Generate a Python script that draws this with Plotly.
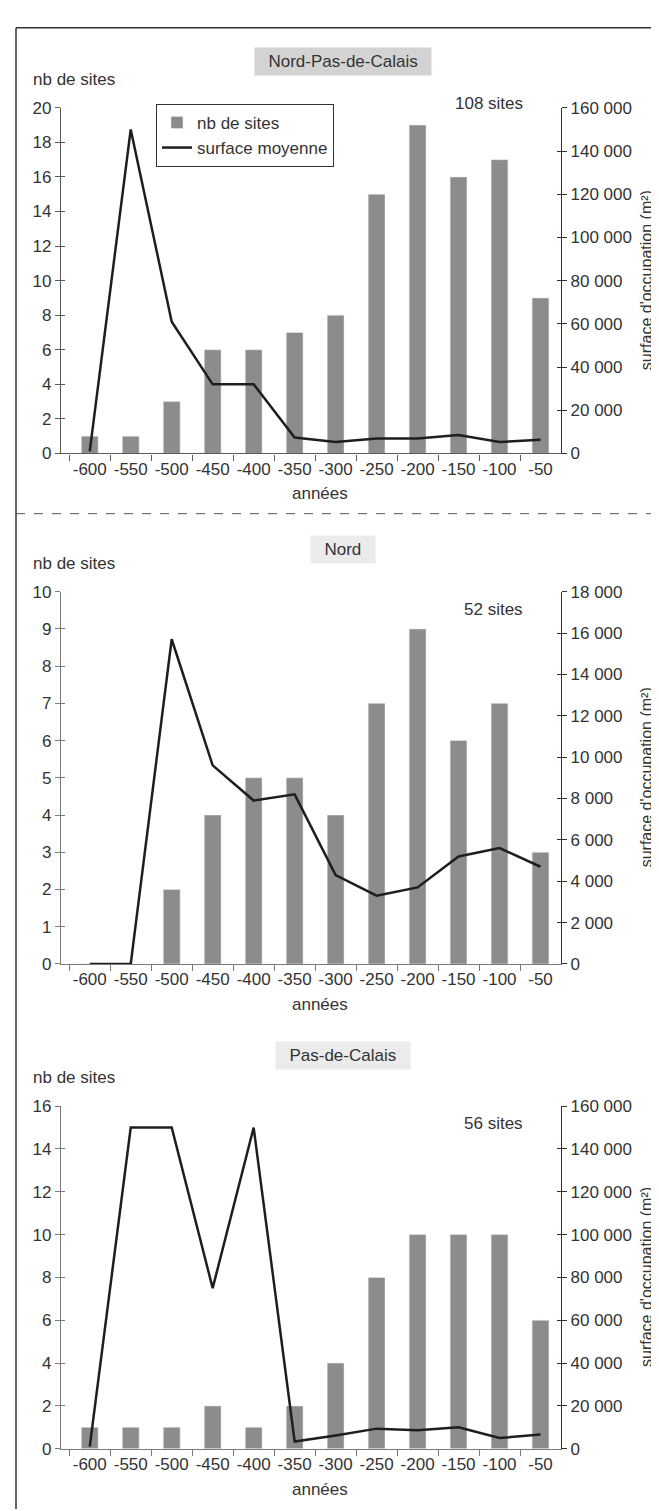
import plotly.graph_objects as go

# données
annees = ["-600", "-550", "-500", "-450", "-400", "-350", "-300", "-250", "-200", "-150", "-100", "-50"]

regions = ["Nord-Pas-de-Calais", "Nord", "Pas-de-Calais"]
totaux = ["108 sites", "52 sites", "56 sites"]

npdc_sites = [1, 1, 3, 6, 6, 7, 8, 15, 19, 16, 17, 9]
npdc_surface = [1000, 150000, 61000, 32000, 32000, 7400, 5300, 6900, 6900, 8500, 5300, 6300]

nord_sites = [0, 0, 2, 4, 5, 5, 4, 7, 9, 6, 7, 3]
nord_surface = [0, 0, 15700, 9600, 7900, 8200, 4300, 3300, 3700, 5200, 5600, 4700]

pdc_sites = [1, 1, 1, 2, 1, 2, 4, 8, 10, 10, 10, 6]
pdc_surface = [1000, 150000, 150000, 75000, 150000, 3400, 6200, 9400, 8600, 10000, 5000, 6700]

sites = [npdc_sites, nord_sites, pdc_sites]
surfaces = [npdc_surface, nord_surface, pdc_surface]

sites_max = [20, 10, 16]
sites_pas = [2, 1, 2]
surface_max = [160000, 18000, 160000]
surface_pas = [20000, 2000, 20000]

# mise en page (pixels)
W, H = 659, 1511
haut = [92, 582, 1103]
bas = [442, 959, 1450]
gauche, droite = 53, 553
fond_titre = ["#d3d3d3", "#ebebeb", "#ebebeb"]
ecart_titre = [47, 43, 51]

def fx(p):
    return p / W

def fy(p):
    return 1 - p / H

police = "Liberation Sans, Arial, sans-serif"
gris_txt = "#333333"

def texte(t, x, y, **kw):
    d = dict(text=t, x=fx(x), y=fy(y), xref="paper", yref="paper",
             showarrow=False, xanchor="center", yanchor="middle",
             font=dict(size=17, color=gris_txt))
    d.update(kw)
    return d

fig = go.Figure()
layout = {}
annotations = []

for i in range(3):
    xa = "x" if i == 0 else "x%d" % (i + 1)
    n = 4 * i + 1
    yl = "y" if n == 1 else "y%d" % n
    yr, yl2, yr2 = "y%d" % (n + 1), "y%d" % (n + 2), "y%d" % (n + 3)
    col_axe = "#5a5a5a" if i == 0 else "#7a7a7a"

    fig.add_trace(go.Bar(
        x=annees, y=sites[i], xaxis=xa, yaxis=yl,
        name="nb de sites", marker_color="#8c8c8c", width=0.41,
        showlegend=(i == 0)
    ))
    fig.add_trace(go.Scatter(
        x=annees, y=surfaces[i], xaxis=xa, yaxis=yr,
        mode="lines", name="surface moyenne",
        line=dict(color="#1e1e1e", width=2.5),
        showlegend=(i == 0)
    ))
    # traces vides pour les graduations croisées
    for ya in (yl2, yr2):
        fig.add_trace(go.Scatter(x=[annees[0]], y=[None], xaxis=xa, yaxis=ya,
                                 showlegend=False, hoverinfo="skip"))

    dom_y = [fy(bas[i]), fy(haut[i])]
    layout["xaxis" if i == 0 else "xaxis%d" % (i + 1)] = dict(
        domain=[fx(gauche), fx(droite)], anchor=yl, type="category",
        tickson="boundaries", ticks="outside", ticklen=6, tickcolor=col_axe,
        showline=True, linecolor=col_axe, linewidth=1.2, showgrid=False,
        tickangle=0, tickfont=dict(size=17, color=gris_txt), fixedrange=True,
    )
    layout["yaxis" if n == 1 else "yaxis%d" % n] = dict(
        domain=dom_y, anchor=xa, range=[0, sites_max[i]], dtick=sites_pas[i],
        ticks="outside", ticklen=5, tickcolor=col_axe, showline=True,
        linecolor=col_axe, linewidth=1.2, showgrid=False, zeroline=False,
        tickfont=dict(size=17, color=gris_txt),
    )
    layout["yaxis%d" % (n + 1)] = dict(
        overlaying=yl, anchor=xa, side="right", range=[0, surface_max[i]],
        dtick=surface_pas[i], tickformat=",d", ticks="outside", ticklen=5,
        tickcolor="#333333", showline=True, linecolor="#333333", linewidth=1.2,
        showgrid=False, zeroline=False, tickfont=dict(size=17, color=gris_txt),
    )
    layout["yaxis%d" % (n + 2)] = dict(
        overlaying=yl, anchor=xa, side="left", range=[0, sites_max[i]],
        dtick=sites_pas[i], ticks="inside", ticklen=4, tickcolor=col_axe,
        showticklabels=False, showline=False, showgrid=False, zeroline=False,
    )
    layout["yaxis%d" % (n + 3)] = dict(
        overlaying=yl, anchor=xa, side="right", range=[0, surface_max[i]],
        dtick=surface_pas[i], ticks="inside", ticklen=4, tickcolor="#333333",
        showticklabels=False, showline=False, showgrid=False, zeroline=False,
    )

    # titres, libellés
    annotations.append(texte("\u00a0\u00a0" + regions[i] + "\u00a0\u00a0", 335, haut[i] - ecart_titre[i],
                             bgcolor=fond_titre[i], borderpad=4))
    annotations.append(texte("nb de sites", 23, haut[i] - 29, xanchor="left"))
    annotations.append(texte(totaux[i], 517, haut[i] + (-4 if i == 0 else 18), xanchor="right"))
    annotations.append(texte("années", 312, bas[i] + 41))
    annotations.append(texte("surface d'occupation (m²)", 649, (haut[i] + bas[i]) / 2,
                             xanchor="right", textangle=-90,
                             font=dict(size=16, color=gris_txt)))

shapes = [
    # cadre
    dict(type="line", xref="paper", yref="paper", x0=fx(8), x1=1, y0=fy(11), y1=fy(11),
         line=dict(color="#333333", width=1.5)),
    dict(type="line", xref="paper", yref="paper", x0=fx(8), x1=fx(8), y0=fy(11), y1=0,
         line=dict(color="#333333", width=1.5)),
    # séparation
    dict(type="line", xref="paper", yref="paper", x0=fx(8), x1=1, y0=fy(503), y1=fy(503),
         line=dict(color="#555555", width=1, dash="dash")),
]

fig.update_layout(
    width=W, height=H,
    margin=dict(l=0, r=0, t=0, b=0),
    paper_bgcolor="white", plot_bgcolor="white",
    font=dict(family=police, size=17, color=gris_txt),
    separators=", ",
    legend=dict(
        x=fx(148), y=fy(88), xanchor="left", yanchor="top",
        bordercolor="#333333", borderwidth=1, bgcolor="white",
        font=dict(size=17, color=gris_txt), itemwidth=30,
    ),
    annotations=annotations,
    shapes=shapes,
    **layout
)

fig.write_html("out.html")
